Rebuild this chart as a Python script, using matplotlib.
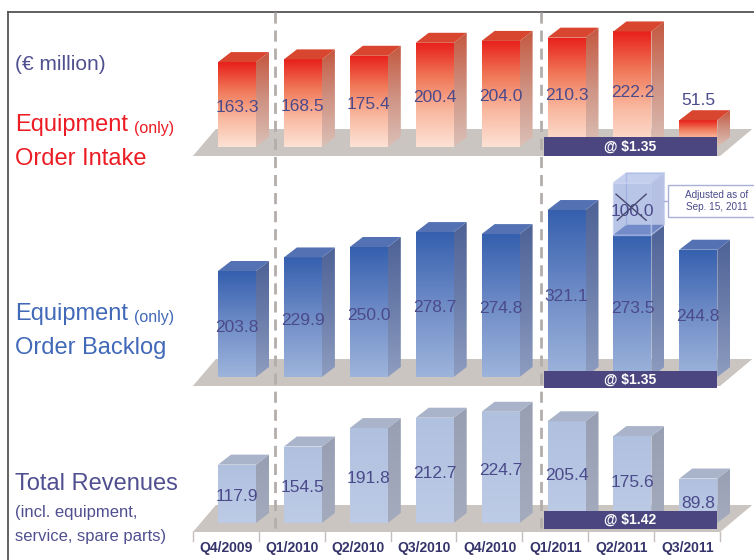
import numpy as np
import matplotlib.pyplot as plt
from matplotlib.patches import Polygon, Rectangle
from matplotlib.lines import Line2D
from matplotlib.colors import LinearSegmentedColormap

plt.rcParams['font.family'] = ['Liberation Sans', 'DejaVu Sans']

# quarterly figures, EUR million
quarters = ['Q4/2009', 'Q1/2010', 'Q2/2010', 'Q3/2010', 'Q4/2010',
            'Q1/2011', 'Q2/2011', 'Q3/2011']
order_intake = [163.3, 168.5, 175.4, 200.4, 204.0, 210.3, 222.2, 51.5]
order_backlog = [203.8, 229.9, 250.0, 278.7, 274.8, 321.1, 273.5, 244.8]
total_revenues = [117.9, 154.5, 191.8, 212.7, 224.7, 205.4, 175.6, 89.8]
backlog_adjustment = 100.0   # taken out of the Q2/2011 backlog
adjusted_quarter = 6
fx_labels = ['@ $1.35', '@ $1.35', '@ $1.42']
fx_first_quarter = 5

W, H = 754, 560
fig = plt.figure(figsize=(W / 100, H / 100), dpi=100)

# horizontal layout: bar centres in pixels
X0, STEP = 237.0, 65.9
XLIM = ((0 - X0) / STEP, (W - X0) / STEP)
BAR_W = 38 / STEP
DX = 13 / STEP

NAVY = '#4b4a8a'
DARK = '#34336a'
FLOOR = '#cbc5c2'
BOX = '#4b4680'


def make_panel(top_px, bot_px, base_px, scale):
    ax = fig.add_axes([0, 1 - bot_px / H, 1, (bot_px - top_px) / H])
    ax.set_xlim(*XLIM)
    ax.set_ylim((base_px - bot_px) / scale, (base_px - top_px) / scale)
    ax.set_autoscale_on(False)
    ax.axis('off')
    ax.patch.set_alpha(0)
    return ax


def grad_face(ax, verts, stops, z):
    verts = np.asarray(verts)
    x0, x1 = verts[:, 0].min(), verts[:, 0].max()
    y0, y1 = verts[:, 1].min(), verts[:, 1].max()
    cmap = LinearSegmentedColormap.from_list('face', stops)
    img = ax.imshow(np.linspace(0, 1, 128).reshape(-1, 1), extent=(x0, x1, y0, y1),
                    origin='lower', cmap=cmap, aspect='auto', zorder=z,
                    interpolation='bilinear')
    clip = Polygon(verts, closed=True, facecolor='none', edgecolor='none')
    ax.add_patch(clip)
    img.set_clip_path(clip)


def draw_bar(ax, i, v, dy, front, side, top, bottom=0.0, z=3):
    xl, xr = i - BAR_W / 2, i + BAR_W / 2
    grad_face(ax, [(xl, bottom), (xr, bottom), (xr, bottom + v), (xl, bottom + v)], front, z)
    grad_face(ax, [(xr, bottom), (xr + DX, bottom + dy), (xr + DX, bottom + v + dy),
                   (xr, bottom + v)], side, z)
    ax.add_patch(Polygon([(xl, bottom + v), (xr, bottom + v), (xr + DX, bottom + v + dy),
                          (xl + DX, bottom + v + dy)], closed=True, facecolor=top,
                         edgecolor='none', zorder=z))


def draw_floor(ax, scale):
    front, back = -9 / scale, 18 / scale
    ax.add_patch(Polygon([(-0.67, front), (7.33, front), (7.82, back), (-0.32, back)],
                         closed=True, facecolor=FLOOR, edgecolor='none', zorder=1))


def draw_fx_box(ax, scale, lo_px, hi_px, label):
    lo, hi = lo_px / scale, hi_px / scale
    x_left = fx_first_quarter - 0.34
    ax.add_patch(Rectangle((x_left, lo), 7.28 - x_left, hi - lo, facecolor=BOX,
                           edgecolor='none', zorder=6))
    ax.text((x_left + 7.28) / 2, (lo + hi) / 2, label, color='white', fontsize=10,
            fontweight='bold', ha='center', va='center', zorder=7)


def draw_values(ax, values, scale):
    for i, v in enumerate(values):
        y = v / 2 - 3 / scale
        if v * scale < 35:
            y = v + 20 / scale
        ax.text(i, y, f'{v:.1f}', color=NAVY, fontsize=12.5, ha='center',
                va='center', zorder=8)


red_front = ['#fde2d5', '#f9b9a1', '#f07858', '#e8201b']
red_side = ['#dbc0b7', '#cf9282', '#c4573f']
blue_front = ['#9db4db', '#6f8cc7', '#3560ae']
blue_side = ['#8e9dc0', '#6b7daa', '#4f6296']
rev_front = ['#bdcbe6', '#b0c0df']
rev_side = ['#a4abbd', '#989fb3']

# --- order intake
s1 = 0.52
ax1 = make_panel(12, 182, 147, s1)
draw_floor(ax1, s1)
for i, v in enumerate(order_intake):
    draw_bar(ax1, i, v, 10 / s1, red_front, red_side, '#d8462f')
draw_fx_box(ax1, s1, -9, 10, fx_labels[0])
draw_values(ax1, order_intake, s1)

# --- order backlog
s2 = 0.52
ax2 = make_panel(160, 400, 377, s2)
draw_floor(ax2, s2)
for i, v in enumerate(order_backlog):
    draw_bar(ax2, i, v, 10 / s2, blue_front, blue_side, '#5371b3')
draw_fx_box(ax2, s2, -11, 6, fx_labels[1])
draw_values(ax2, order_backlog, s2)

# translucent block for the backlog adjustment
i, v, dy = adjusted_quarter, order_backlog[adjusted_quarter], 10 / s2
xl, xr = i - BAR_W / 2, i + BAR_W / 2
top_v = v + backlog_adjustment
ghost = dict(edgecolor='#c3cdee', linewidth=1.0, zorder=5)
ax2.add_patch(Polygon([(xl + DX, v + dy), (xl + DX, top_v + dy), (xr + DX, top_v + dy)],
                      closed=False, fill=False, **ghost))
ax2.add_patch(Rectangle((xl, v), BAR_W, backlog_adjustment, facecolor='#8a9fd8',
                        alpha=0.6, **ghost))
ax2.add_patch(Polygon([(xr, v), (xr + DX, v + dy), (xr + DX, top_v + dy), (xr, top_v)],
                      closed=True, facecolor='#8597d0', alpha=0.6, **ghost))
ax2.add_patch(Polygon([(xl, top_v), (xr, top_v), (xr + DX, top_v + dy), (xl + DX, top_v + dy)],
                      closed=True, facecolor='#9cafe2', alpha=0.6, **ghost))
ax2.text(i, v + backlog_adjustment / 2 - 3 / s2, f'{backlog_adjustment:.1f}',
         color=NAVY, fontsize=12.5, ha='center', va='center', zorder=8)
ax2.plot([xl + 0.04, xr - 0.08], [v + 78, v + 28], color='#4a4a70', lw=1, zorder=9)
ax2.plot([xl + 0.06, xr - 0.08], [v + 28, v + 78], color='#4a4a70', lw=1, zorder=9)

note_x = (668 - X0) / STEP
ax2.add_patch(Rectangle((note_x, (377 - 217) / s2), 2, 32 / s2, facecolor='white',
                        edgecolor='#a9b1d6', linewidth=1, zorder=6))
ax2.plot([xr + DX, note_x], [(377 - 201) / s2] * 2, color='#a9b1d6', lw=1, zorder=5)
ax2.text((717 - X0) / STEP, (377 - 201) / s2, 'Adjusted as of\nSep. 15, 2011',
         color=NAVY, fontsize=7.2, ha='center', va='center', linespacing=1.3, zorder=7)

# --- total revenues
s3 = 0.495
ax3 = make_panel(390, 560, 523, s3)
draw_floor(ax3, s3)
for i, v in enumerate(total_revenues):
    draw_bar(ax3, i, v, 10 / s3, rev_front, rev_side, '#a9b3c9')
draw_fx_box(ax3, s3, -6, 12, fx_labels[2])
draw_values(ax3, total_revenues, s3)
for k in range(len(quarters) + 1):
    ax3.plot([k - 0.67] * 2, [-9 / s3, -18 / s3], color='#c4bebc', lw=1, zorder=2)
for i, q in enumerate(quarters):
    ax3.text(i - 0.16, -25 / s3, q, color=DARK, fontsize=10, fontweight='bold',
             ha='center', va='center')

# --- frame, separators and row titles
over = fig.add_axes([0, 0, 1, 1], zorder=10)
over.set_xlim(*XLIM)
over.set_ylim(H, 0)
over.axis('off')
over.patch.set_alpha(0)
for xs in (0.58, 4.61):
    over.plot([xs, xs], [12, 528], color='#b3adab', lw=2, ls=(0, (4, 2.5)))
fig.add_artist(Line2D([8 / W, 1], [1 - 12 / H] * 2, color='#555555', lw=1.3))
fig.add_artist(Line2D([8 / W] * 2, [1 - 12 / H, 0], color='#555555', lw=1.3))


def row_title(y_px, text, color, size, small=None):
    t = fig.text(15 / W, 1 - y_px / H, text, color=color, fontsize=size, va='baseline')
    if small:
        over.annotate(small, xy=(1, 0), xycoords=t, xytext=(4, 0),
                      textcoords='offset points', color=color, fontsize=11.5,
                      va='bottom')


RED = '#ec1c24'
BLUE = '#4169b8'
row_title(70, '(\u20ac million)', '#505090', 15)
row_title(131, 'Equipment', RED, 17, '(only)')
row_title(165, 'Order Intake', RED, 17)
row_title(320, 'Equipment', BLUE, 17, '(only)')
row_title(354, 'Order Backlog', BLUE, 17)
row_title(490, 'Total Revenues', '#505090', 17)
row_title(517, '(incl. equipment,', '#505090', 12)
row_title(541, 'service, spare parts)', '#505090', 12)

fig.savefig('out.png', dpi=100)
